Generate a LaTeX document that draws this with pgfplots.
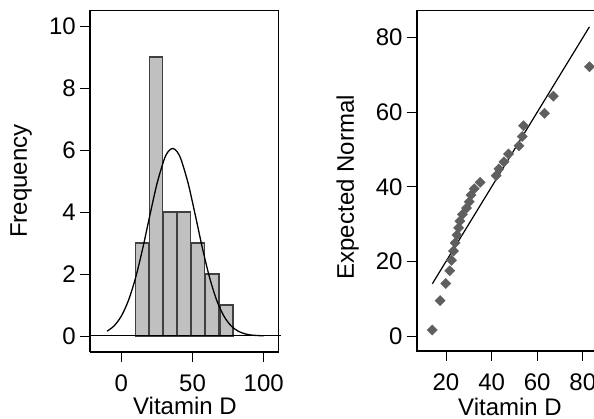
\documentclass[border=0pt]{standalone}
\usepackage{pgfplots}
\pgfplotsset{compat=1.18}
\usepackage{fontspec}
\setmainfont{Liberation Sans}
\definecolor{barfill}{HTML}{C0C0C0}
\definecolor{baredge}{HTML}{404040}
\definecolor{markgray}{HTML}{5F5F5F}
\begin{document}
\fontsize{24}{28}\selectfont
\begin{tikzpicture}
\path[use as bounding box, clip] (0pt,0pt) rectangle (594pt,419pt);
\pgfplotsset{
  mystyle/.style={
    scale only axis,
    tick align=outside, xtick pos=bottom, ytick pos=left,
    major tick length=10pt,
    tick style={black, line width=0.8pt},
    axis line style={line width=0.8pt},
    /pgf/number format/assume math mode=true,
    ticklabel style={font=\fontsize{24}{28}\selectfont, inner sep=0pt},
    xticklabel style={anchor=base, yshift=-30pt},
    yticklabel style={anchor=east, xshift=-4pt},
    label style={font=\fontsize{24}{28}\selectfont, inner sep=0pt},
    clip=false,
  }
}
% Left: histogram
\begin{axis}[mystyle,
  at={(90pt,67pt)}, anchor=south west, width=188pt, height=342pt,
  xmin=-22, xmax=110, ymin=-0.516, ymax=10.516,
  xtick={0,50,100}, ytick={0,2,4,6,8,10},
  xlabel={Vitamin D}, ylabel={Frequency},
  xlabel style={at={(axis description cs:0.505,-0.184)}, anchor=base},
  ylabel style={at={(axis description cs:-0.367,0.5)}, anchor=center, rotate=0},
]
\addplot[ybar, bar width=9.2, bar shift=0pt, fill=barfill, draw=baredge, line width=1.2pt]
  coordinates {(14.45,3) (24.35,9) (34.25,4) (44.15,4) (54.05,3) (63.95,2) (73.85,1)};
\addplot[black, line width=1.3pt, smooth] coordinates {
  (-10,0.156) (-5,0.330) (0,0.643) (5,1.147) (10,1.879) (15,2.821) (20,3.885)
  (25,4.907) (30,5.685) (33,5.957) (36,6.05) (39,5.957) (42,5.685) (47,4.907)
  (52,3.885) (57,2.821) (62,1.879) (67,1.147) (72,0.643) (77,0.330) (82,0.156)
  (87,0.067) (92,0.027) (100,0.005)};
\draw[black, line width=1pt] (axis cs:-22,0) -- (axis cs:111.9,0);
\draw[black, line width=2pt] (rel axis cs:0,0) -- (rel axis cs:0,1);
\draw[black, line width=2pt] (rel axis cs:0,0) -- (rel axis cs:1,0);
\end{axis}
% Right: Q-Q plot
\begin{axis}[mystyle,
  at={(416.7pt,68pt)}, anchor=south west, width=188.9pt, height=341pt,
  xmin=7.15, xmax=90, ymin=-4.02, ymax=87.42,
  xtick={20,40,60,80}, ytick={0,20,40,60,80},
  xlabel={Vitamin D}, ylabel={Expected Normal},
  xlabel style={at={(axis description cs:0.494,-0.189)}, anchor=base},
  ylabel style={at={(axis description cs:-0.366,0.48)}, anchor=center, rotate=0},
]
\addplot[black, line width=1.2pt] coordinates {(14,14) (82.9,82.9)};
\addplot[only marks, mark=square*, mark size=3.6pt,
  mark options={rotate=45, fill=markgray, draw=markgray}] coordinates {
  (14.0,1.6) (17.4,9.5) (19.9,14.1) (21.6,17.5) (22.4,20.3) (23.3,22.8)
  (24.0,25.0) (24.8,27.1) (25.5,29.0) (26.1,30.8) (27.2,32.6) (29.0,34.3)
  (30.2,36.0) (31.0,37.8) (32.4,39.5) (35.0,41.2) (42.0,43.0) (43.2,44.8)
  (45.4,46.7) (47.4,48.8) (52.0,51.0) (53.4,53.5) (54.0,56.4) (63.2,59.7)
  (67.1,64.3) (82.9,72.2)};
\draw[black, line width=2pt] (rel axis cs:0,0) -- (rel axis cs:0,1);
\draw[black, line width=2pt] (rel axis cs:0,0) -- (rel axis cs:1,0);
\end{axis}
\end{tikzpicture}
\end{document}
